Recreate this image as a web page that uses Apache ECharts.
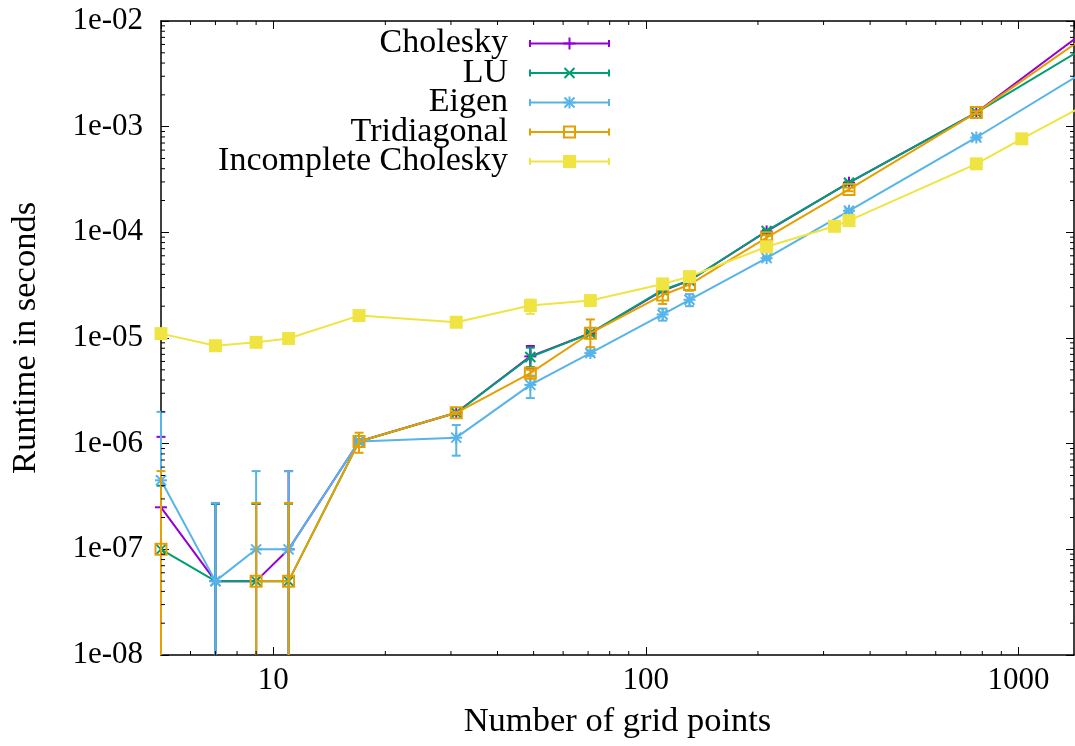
<!DOCTYPE html>
<html>
<head>
<meta charset="utf-8">
<script src="https://cdn.jsdelivr.net/npm/echarts@6/dist/echarts.min.js"></script>
<style>
  html, body { margin: 0; padding: 0; background: #ffffff; }
  #chart { width: 1075px; height: 746px; }
</style>
</head>
<body>
<div id="chart"></div>
<script>
// grid sizes (x values)
const gridPoints = [5, 7, 9, 11, 17, 31, 49, 71, 111, 131, 211, 351, 771, 1551];
const icGridPoints = [5, 7, 9, 11, 17, 31, 49, 71, 111, 131, 211, 321, 351, 771, 1021, 1551];

const seriesNames = ["Cholesky", "LU", "Eigen", "Tridiagonal", "Incomplete Cholesky"];
const seriesColors = ["#9400d3", "#009e73", "#56b4e9", "#e69f00", "#f0e442"];
const markerKinds = ["plus", "cross", "star", "square", "filledSquare"];

// runtimes in seconds, with lower / upper error bar ends (0 = below the axis)
const cholesky     = [2.5e-7, 5e-8, 5e-8, 1e-7, 1.05e-6, 1.96e-6, 6.7e-6, 1.11e-5, 2.8e-5, 3.5e-5, 1.02e-4, 2.95e-4, 1.36e-3, 8.6e-3];
const choleskyLow  = [0, 0, 0, 0, 1.0e-6, 1.9e-6, 5.2e-6, 1.07e-5, 2.7e-5, 3.4e-5, 9.9e-5, 2.88e-4, 1.33e-3, 8.4e-3];
const choleskyHigh = [1.16e-6, 2.7e-7, 2.7e-7, 5.5e-7, 1.1e-6, 2.0e-6, 8.4e-6, 1.15e-5, 2.9e-5, 3.6e-5, 1.05e-4, 3.02e-4, 1.39e-3, 8.8e-3];

const lu     = [1e-7, 5e-8, 5e-8, 5e-8, 1.05e-6, 1.96e-6, 6.6e-6, 1.11e-5, 2.85e-5, 3.5e-5, 1.03e-4, 2.95e-4, 1.36e-3, 5.97e-3];
const luLow  = [0, 0, 0, 0, 1.0e-6, 1.9e-6, 5.3e-6, 1.07e-5, 2.75e-5, 3.4e-5, 1.0e-4, 2.88e-4, 1.33e-3, 5.8e-3];
const luHigh = [4e-7, 2.7e-7, 2.7e-7, 2.7e-7, 1.1e-6, 2.0e-6, 8.1e-6, 1.15e-5, 2.95e-5, 3.6e-5, 1.06e-4, 3.02e-4, 1.39e-3, 6.1e-3];

const eigen     = [4.5e-7, 5e-8, 1e-7, 1e-7, 1.05e-6, 1.14e-6, 3.6e-6, 7.2e-6, 1.67e-5, 2.3e-5, 5.7e-5, 1.6e-4, 7.9e-4, 3.55e-3];
const eigenLow  = [0, 0, 0, 0, 1.0e-6, 7.7e-7, 2.7e-6, 6.8e-6, 1.46e-5, 2.0e-5, 5.5e-5, 1.55e-4, 7.6e-4, 3.45e-3];
const eigenHigh = [2.0e-6, 2.75e-7, 5.5e-7, 5.5e-7, 1.1e-6, 1.5e-6, 4.4e-6, 7.6e-6, 1.9e-5, 2.6e-5, 5.9e-5, 1.67e-4, 8.2e-4, 3.65e-3];

const tridiagonal     = [1e-7, "-", 5e-8, 5e-8, 1.05e-6, 1.96e-6, 4.65e-6, 1.11e-5, 2.55e-5, 3.2e-5, 8.9e-5, 2.55e-4, 1.36e-3, 7.6e-3];
const tridiagonalLow  = [0, "-", 0, 0, 8.2e-7, 1.9e-6, 4.3e-6, 8.2e-6, 2.1e-5, 2.8e-5, 8.4e-5, 2.45e-4, 1.32e-3, 7.4e-3];
const tridiagonalHigh = [5.5e-7, "-", 2.75e-7, 2.75e-7, 1.27e-6, 2.0e-6, 5.0e-6, 1.5e-5, 2.95e-5, 3.55e-5, 9.4e-5, 2.65e-4, 1.4e-3, 7.8e-3];

const incompleteCholesky     = [1.1e-5, 8.45e-6, 9.1e-6, 9.9e-6, 1.63e-5, 1.41e-5, 2.03e-5, 2.26e-5, 3.25e-5, 3.81e-5, 7.3e-5, 1.14e-4, 1.29e-4, 4.45e-4, 7.67e-4, 1.69e-3];
const incompleteCholeskyLow  = [1.07e-5, 8.2e-6, 8.9e-6, 9.6e-6, 1.58e-5, 1.37e-5, 1.69e-5, 2.2e-5, 3.15e-5, 3.7e-5, 7.1e-5, 1.11e-4, 1.25e-4, 4.35e-4, 7.5e-4, 1.65e-3];
const incompleteCholeskyHigh = [1.13e-5, 8.7e-6, 9.3e-6, 1.02e-5, 1.68e-5, 1.45e-5, 2.31e-5, 2.32e-5, 3.35e-5, 3.9e-5, 7.5e-5, 1.17e-4, 1.33e-4, 4.55e-4, 7.85e-4, 1.73e-3];

const xTickLabels = ["10", "100", "1000"];
const yTickLabels = ["1e-08", "1e-07", "1e-06", "1e-05", "1e-04", "1e-03", "1e-02"];

const allX = [gridPoints, gridPoints, gridPoints, gridPoints, icGridPoints];
const allY = [cholesky, lu, eigen, tridiagonal, incompleteCholesky];
const allLow = [choleskyLow, luLow, eigenLow, tridiagonalLow, incompleteCholeskyLow];
const allHigh = [choleskyHigh, luHigh, eigenHigh, tridiagonalHigh, incompleteCholeskyHigh];

const FONT = "Liberation Serif";

function markerShape(kind, cx, cy, color) {
  const line = (x1, y1, x2, y2) => ({
    type: "line",
    shape: { x1, y1, x2, y2 },
    style: { stroke: color, lineWidth: 2 }
  });
  const plus = [line(cx - 6, cy, cx + 6, cy), line(cx, cy - 6, cx, cy + 6)];
  const cross = [line(cx - 5, cy - 5, cx + 5, cy + 5), line(cx - 5, cy + 5, cx + 5, cy - 5)];
  if (kind === "plus") return plus;
  if (kind === "cross") return cross;
  if (kind === "star") return plus.concat(cross);
  if (kind === "square") {
    return [{
      type: "rect",
      shape: { x: cx - 5.5, y: cy - 5.5, width: 11, height: 11 },
      style: { fill: "none", stroke: color, lineWidth: 2 }
    }];
  }
  return [{
    type: "rect",
    shape: { x: cx - 6.5, y: cy - 6.5, width: 13, height: 13 },
    style: { fill: color }
  }];
}

function errorBarRenderer(kind, color) {
  return function (params, api) {
    const cs = params.coordSys;
    const x = api.value(0), y = api.value(1), lo = api.value(2), hi = api.value(3);
    const p = api.coord([x, y]);
    if (p[0] > cs.x + cs.width + 1) return;
    const top = cs.y, bottom = cs.y + cs.height;
    const yHi = Math.max(top, api.coord([x, hi])[1]);
    const yLo = lo > 0 ? Math.min(bottom, api.coord([x, lo])[1]) : bottom;
    const st = { stroke: color, lineWidth: 2 };
    const children = [{ type: "line", shape: { x1: p[0], y1: yLo, x2: p[0], y2: yHi }, style: st }];
    if (yHi > top) children.push({ type: "line", shape: { x1: p[0] - 4.5, y1: yHi, x2: p[0] + 4.5, y2: yHi }, style: st });
    if (lo > 0 && yLo < bottom) children.push({ type: "line", shape: { x1: p[0] - 4.5, y1: yLo, x2: p[0] + 4.5, y2: yLo }, style: st });
    if (p[1] >= top - 1 && p[1] <= bottom + 1) {
      markerShape(kind, p[0], p[1], color).forEach((c) => children.push(c));
    }
    return { type: "group", children };
  };
}

function minorTickRenderer(isX) {
  return function (params, api) {
    const cs = params.coordSys;
    const p = api.coord([api.value(0), api.value(1)]);
    const st = { stroke: "#000", lineWidth: 1 };
    if (isX) {
      if (p[0] <= cs.x || p[0] >= cs.x + cs.width) return;
      return { type: "group", children: [
        { type: "line", shape: { x1: p[0], y1: cs.y + cs.height, x2: p[0], y2: cs.y + cs.height - 4 }, style: st },
        { type: "line", shape: { x1: p[0], y1: cs.y, x2: p[0], y2: cs.y + 4 }, style: st }
      ] };
    }
    if (p[1] <= cs.y || p[1] >= cs.y + cs.height) return;
    return { type: "group", children: [
      { type: "line", shape: { x1: cs.x, y1: p[1], x2: cs.x + 4, y2: p[1] }, style: st },
      { type: "line", shape: { x1: cs.x + cs.width, y1: p[1], x2: cs.x + cs.width - 4, y2: p[1] }, style: st }
    ] };
  };
}

// minor tick positions 2..9 in every decade
const xMinor = [];
for (let d = 1; d <= 1000; d *= 10) for (let m = 2; m <= 9; m++) xMinor.push([m * d, 1e-5]);
const yMinor = [];
for (let e = -8; e < -2; e++) for (let m = 2; m <= 9; m++) yMinor.push([10, m * Math.pow(10, e)]);

function isDecade(v) {
  const l = Math.log10(v);
  return Math.abs(l - Math.round(l)) < 1e-6;
}

const series = [];
seriesNames.forEach((name, i) => {
  const xs = allX[i];
  series.push({
    name: name,
    type: "line",
    data: xs.map((x, j) => [x, allY[i][j]]),
    symbol: "none",
    connectNulls: false,
    clip: true,
    lineStyle: { color: seriesColors[i], width: 2 },
    z: 10 + 2 * i,
    silent: true
  });
  series.push({
    name: name + " errors",
    type: "custom",
    data: xs.map((x, j) => [x, allY[i][j], allLow[i][j], allHigh[i][j]])
      .filter((d) => d[1] !== "-"),
    encode: { x: 0, y: 1 },
    renderItem: errorBarRenderer(markerKinds[i], seriesColors[i]),
    z: 11 + 2 * i,
    silent: true
  });
});
series.push({
  type: "custom", data: xMinor, encode: { x: 0, y: 1 },
  renderItem: minorTickRenderer(true), z: 30, silent: true
});
series.push({
  type: "custom", data: yMinor, encode: { x: 0, y: 1 },
  renderItem: minorTickRenderer(false), z: 30, silent: true
});

// gnuplot style key: right aligned text, sample line with error caps
const legendGraphics = [];
seriesNames.forEach((name, i) => {
  const cy = 43.5 + i * 29.5;
  const c = seriesColors[i];
  const st = { stroke: c, lineWidth: 2 };
  legendGraphics.push({
    type: "text", x: 508, y: cy,
    style: { text: name, fill: "#000", font: "34px " + FONT, align: "right", verticalAlign: "middle" },
    z: 100
  });
  legendGraphics.push({ type: "line", shape: { x1: 530, y1: cy, x2: 609, y2: cy }, style: st, z: 100 });
  legendGraphics.push({ type: "line", shape: { x1: 530, y1: cy - 3.5, x2: 530, y2: cy + 3.5 }, style: st, z: 100 });
  legendGraphics.push({ type: "line", shape: { x1: 609, y1: cy - 3.5, x2: 609, y2: cy + 3.5 }, style: st, z: 100 });
  markerShape(markerKinds[i], 569.5, cy, c).forEach((m) => {
    m.z = 100;
    legendGraphics.push(m);
  });
});

const axisLineStyle = { show: true, lineStyle: { color: "#000", width: 1.5 } };

const chart = echarts.init(document.getElementById("chart"), null, { renderer: "canvas" });
chart.setOption({
  animation: false,
  backgroundColor: "#ffffff",
  textStyle: { fontFamily: FONT },
  grid: { left: 160, right: 1, top: 21, bottom: 91, containLabel: false },
  xAxis: [
    {
      type: "log", logBase: 10, min: 5, max: 1410, position: "bottom",
      axisLine: axisLineStyle,
      axisTick: { show: true, inside: true, length: 8, lineStyle: { color: "#000", width: 1 } },
      axisLabel: {
        color: "#000", fontSize: 31, fontFamily: FONT, margin: 10,
        showMinLabel: false, showMaxLabel: false,
        formatter: (v) => isDecade(v) ? xTickLabels[Math.round(Math.log10(v)) - 1] || "" : ""
      },
      splitLine: { show: false },
      name: "Number of grid points", nameLocation: "middle", nameGap: 49,
      nameTextStyle: { color: "#000", fontSize: 34.5, fontFamily: FONT }
    },
    {
      type: "log", logBase: 10, min: 5, max: 1410, position: "top",
      axisLine: axisLineStyle,
      axisTick: { show: true, inside: true, length: 8, lineStyle: { color: "#000", width: 1 } },
      axisLabel: { show: false }, splitLine: { show: false }
    }
  ],
  yAxis: [
    {
      type: "log", logBase: 10, min: 1e-8, max: 1e-2, position: "left",
      axisLine: axisLineStyle,
      axisTick: { show: true, inside: true, length: 8, lineStyle: { color: "#000", width: 1 } },
      axisLabel: {
        color: "#000", fontSize: 31, fontFamily: FONT, margin: 18,
        formatter: (v) => isDecade(v) ? yTickLabels[Math.round(Math.log10(v)) + 8] || "" : ""
      },
      splitLine: { show: false },
      name: "Runtime in seconds", nameLocation: "middle", nameGap: 118,
      nameTextStyle: { color: "#000", fontSize: 34.5, fontFamily: FONT }
    },
    {
      type: "log", logBase: 10, min: 1e-8, max: 1e-2, position: "right",
      axisLine: axisLineStyle,
      axisTick: { show: true, inside: true, length: 8, lineStyle: { color: "#000", width: 1 } },
      axisLabel: { show: false }, splitLine: { show: false }
    }
  ],
  graphic: legendGraphics,
  series: series
});
</script>
</body>
</html>
